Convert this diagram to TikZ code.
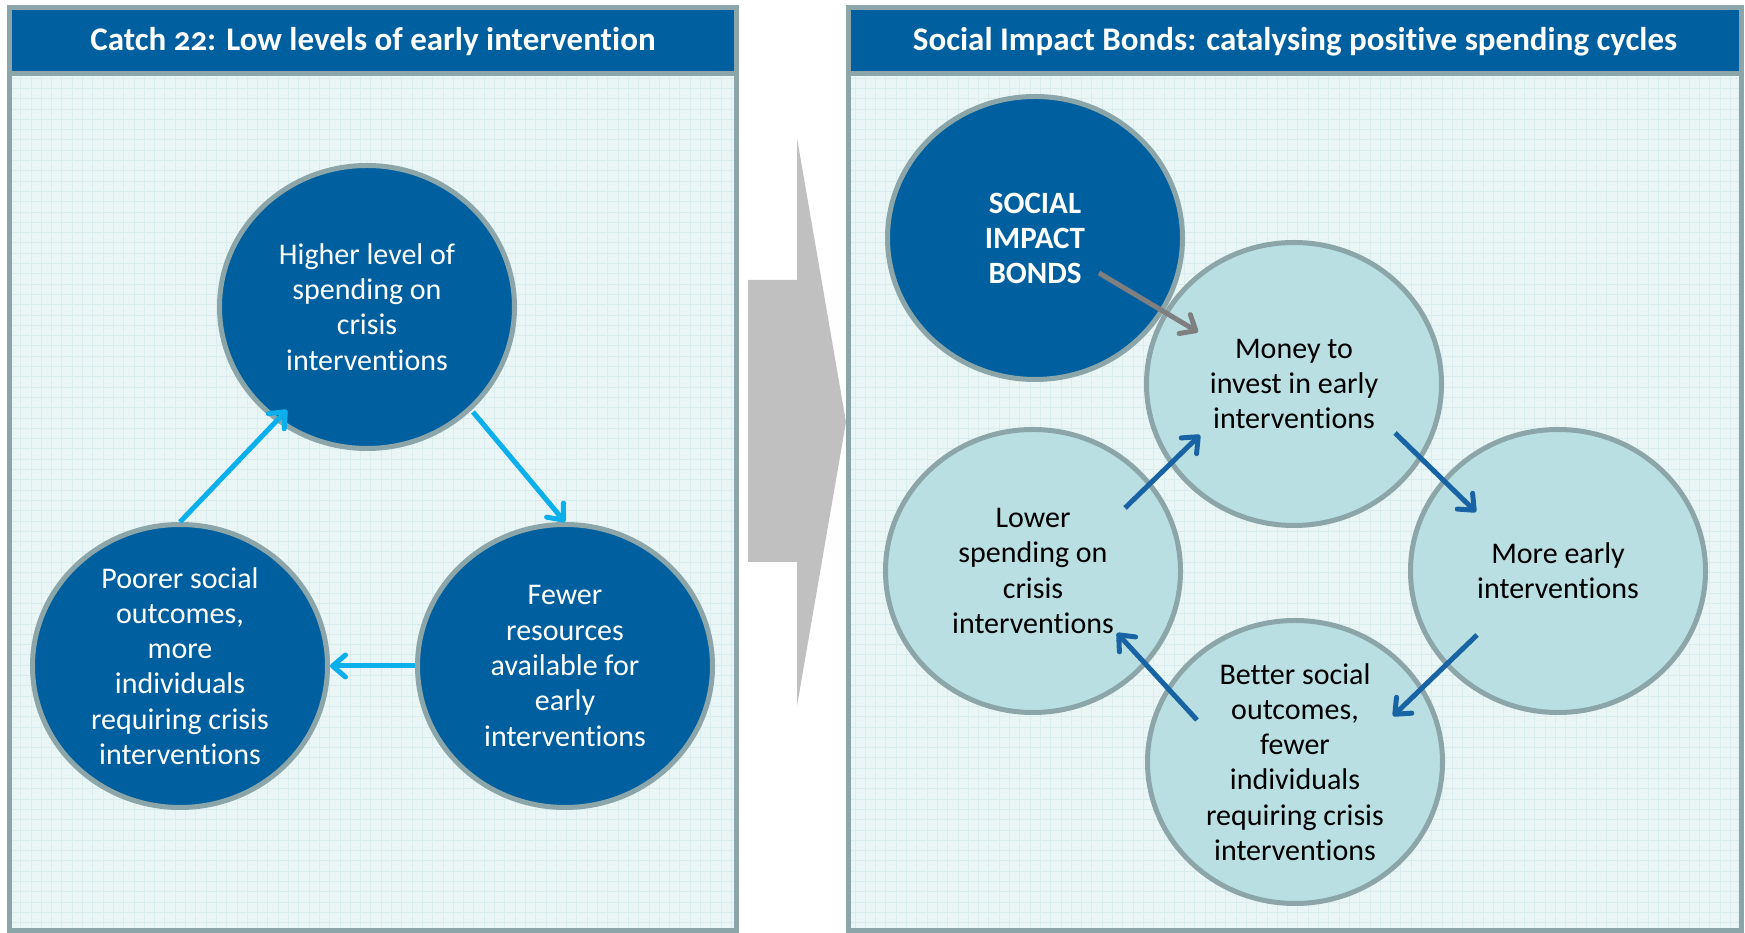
\documentclass[tikz,border=0pt]{standalone}
\usepackage{fontspec}
\setmainfont{Carlito}[Numbers=OldStyle, Ligatures=NoCommon, RawFeature={-calt}]
\usetikzlibrary{calc}
\usetikzlibrary{arrows.meta}
\usetikzlibrary{shapes.geometric}
\definecolor{sibblue}{HTML}{00609F}
\definecolor{rimgrey}{HTML}{8BA5A8}
\definecolor{paleteal}{HTML}{B9DFE3}
\definecolor{paper}{HTML}{EAF5F6}
\definecolor{gridteal}{HTML}{D9ECEE}
\definecolor{cyanarrow}{HTML}{0AAFEB}
\definecolor{cyclearrow}{HTML}{1863A3}
\definecolor{bondarrow}{HTML}{7F7F7F}
\definecolor{bigarrow}{HTML}{C0C0C0}
\tikzset{
	>={Straight Barb[length=13pt,width=22pt,round]},
	panel/.style={draw=rimgrey, line width=5pt},
	header/.style={fill=sibblue, draw=rimgrey, line width=5pt},
	headtext/.style={text=white, font=\fontsize{33}{39}\selectfont\bfseries},
	gridline/.style={draw=gridteal, line width=0.8pt},
	bubble/.style={
		ellipse,
		minimum width=295pt,
		minimum height=283pt,
		inner sep=-40pt,
		draw=rimgrey, line width=5pt,
		align=center,
		font=\fontsize{30}{35.3}\selectfont},
	darkbubble/.style={bubble, fill=sibblue, text=white},
	lightbubble/.style={bubble, fill=paleteal, text=black},
	flow/.style={->, line width=5pt},
}
\begin{document}
\begin{tikzpicture}
	[x=1pt, y=1pt]
	\useasboundingbox (0,0) rectangle (1745,933);
	% panels
	\fill[paper] (9.7,2) rectangle (736.5,925);
	\fill[paper] (848,2) rectangle (1741,925);
	\begin{scope}
		\clip (9.7,2) rectangle (736.5,925) (848,2) rectangle (1741,925);
		\draw[gridline, step=10.3] (0,0) grid (1745,933);
	\end{scope}
	\draw[panel] (9.7,2) rectangle (736.5,925);
	\draw[panel] (848,2) rectangle (1741,925);
	\draw[header] (9.7,859.5) rectangle (736.5,925);
	\draw[header] (848,859.5) rectangle (1741,925);
	\node[headtext] (catchtitle) at (373,891) {Catch 22: Low levels of early intervention};
	\node[headtext] (sibtitle) at (1295,891) {Social Impact Bonds: catalysing positive spending cycles};
	
	% big grey arrow between the panels
	\fill[bigarrow] (748,653) -- (797,653) -- (797,795) -- (846,511) -- (797,227) -- (797,371) -- (748,371) -- cycle;
	
	% catch 22 cycle
	\node[darkbubble] (crisis) at (367,626) {Higher level of\\spending on\\crisis\\interventions};
	\node[darkbubble] (fewer) at (565,267) {Fewer\\resources\\available for\\early\\interventions};
	\node[darkbubble] (poor) at (180,267) {Poorer social\\outcomes,\\more\\individuals\\requiring crisis\\interventions};
	\draw[flow, cyanarrow] (poor.north) -- ($(crisis)+(-80,-103)$);
	\draw[flow, cyanarrow] ($(crisis)+(106,-105)$) -- (fewer.north);
	\draw[flow, cyanarrow] (fewer.west) -- (poor.east);
	
	% social impact bond cycle
	\node[darkbubble, font=\fontsize{31}{35}\selectfont\bfseries] (sib) at (1035,695) {SOCIAL\\IMPACT\\BONDS};
	\node[lightbubble] (money) at (1294,549) {Money to\\invest in early\\interventions};
	\node[lightbubble] (more) at (1558,362) {More early\\interventions};
	\node[lightbubble] (lower) at (1033,362) {Lower\\spending on\\crisis\\interventions};
	\node[lightbubble] (better) at (1295,171) {Better social\\outcomes,\\fewer\\individuals\\requiring crisis\\interventions};
	\draw[flow, bondarrow] ($(sib)+(64,-35)$) -- ($(money)+(-96,52)$);
	\draw[flow, cyclearrow] ($(lower)+(92,63)$) -- ($(money)+(-94,-51)$);
	\draw[flow, cyclearrow] ($(money)+(101,-49)$) -- ($(more)+(-82,59)$);
	\draw[flow, cyclearrow] ($(more)+(-81,-64)$) -- ($(better)+(98,46)$);
	\draw[flow, cyclearrow] ($(better)+(-98,42)$) -- ($(lower)+(84,-62)$);
\end{tikzpicture}
\end{document}
